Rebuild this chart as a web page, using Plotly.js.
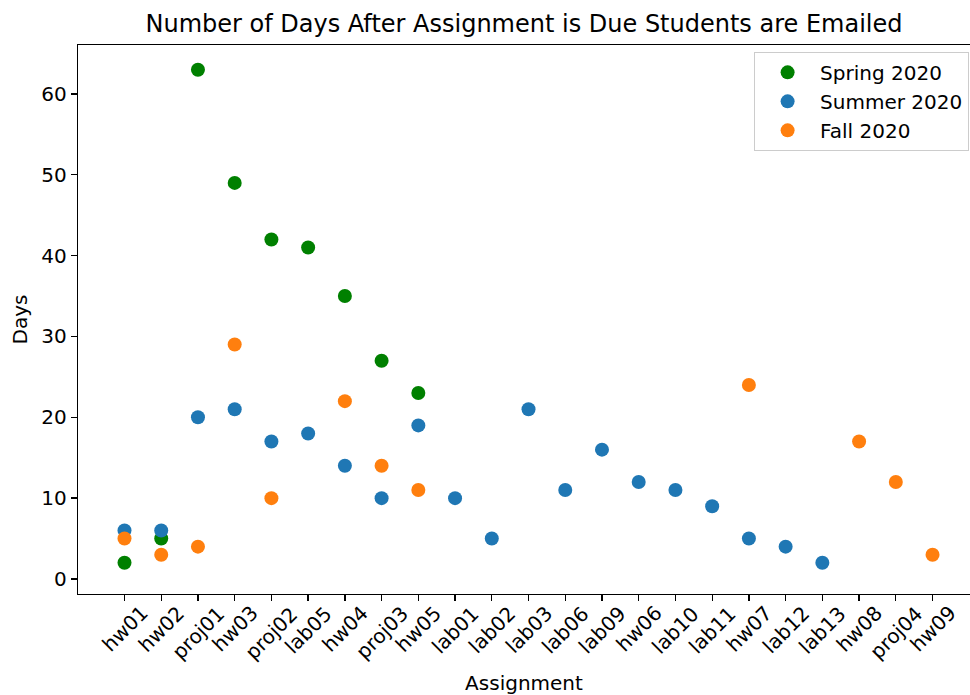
<!DOCTYPE html>
<html>
<head>
<meta charset="utf-8">
<script src="https://cdn.plot.ly/plotly-3.0.1.min.js"></script>
<style>html,body{margin:0;padding:0;overflow:hidden;background:#fff}</style>
</head>
<body>
<div id="chart" style="width:970px;height:695px"></div>
<script>
const categories = ["hw01","hw02","proj01","hw03","proj02","lab05","hw04","proj03","hw05","lab01","lab02","lab03","lab06","lab09","hw06","lab10","lab11","hw07","lab12","lab13","hw08","proj04","hw09"];

const springX = ["hw01","hw02","proj01","hw03","proj02","lab05","hw04","proj03","hw05"];
const springY = [2,5,63,49,42,41,35,27,23];

const summerX = ["hw01","hw02","proj01","hw03","proj02","lab05","hw04","proj03","hw05","lab01","lab02","lab03","lab06","lab09","hw06","lab10","lab11","hw07","lab12","lab13"];
const summerY = [6,6,20,21,17,18,14,10,19,10,5,21,11,16,12,11,9,5,4,2];

const fallX = ["hw01","hw02","proj01","hw03","proj02","hw04","proj03","hw05","hw07","hw08","proj04","hw09"];
const fallY = [5,3,4,29,10,22,14,11,24,17,12,3];

const fontFam = "DejaVu Sans, sans-serif";
function idx(arr){ return arr.map(c => categories.indexOf(c)); }

const traces = [
  {x: idx(springX), y: springY, name: "Spring 2020", legendgroup: "a", type: "scatter", mode: "markers",
   marker: {color: "#008000", size: 14}},
  {x: idx(summerX), y: summerY, name: "Summer 2020", legendgroup: "b", type: "scatter", mode: "markers",
   marker: {color: "#1f77b4", size: 14}},
  {x: idx(fallX), y: fallY, name: "Fall 2020", legendgroup: "c", type: "scatter", mode: "markers",
   marker: {color: "#ff7f0e", size: 14}}
];

// rotated category labels centred under each tick (matplotlib rotation=45, ha=center)
const plotH = 695 - 45 - 101;
const labelTopPx = 6;
const tickLabels = categories.map((c, i) => ({
  x: i, xref: "x", y: -labelTopPx / plotH, yref: "paper",
  text: c, showarrow: false, textangle: -45,
  xanchor: "center", yanchor: "top", borderpad: 0,
  font: {family: fontFam, size: 20, color: "#000"}
}));

const layout = {
  width: 970, height: 695,
  margin: {l: 78, r: 0, t: 45, b: 101},
  paper_bgcolor: "#fff", plot_bgcolor: "#fff",
  font: {family: fontFam, size: 20, color: "#000"},
  title: {text: "Number of Days After Assignment is Due Students are Emailed",
          font: {family: fontFam, size: 24, color: "#000"},
          x: 0.5, xref: "paper", y: 1 - 24/695, yanchor: "middle"},
  xaxis: {
    range: [-1.266, 23.02],
    tickmode: "array",
    tickvals: categories.map((c,i) => i),
    ticktext: categories,
    showticklabels: false,
    showgrid: false, zeroline: false,
    showline: true, mirror: true, linecolor: "#000", linewidth: 1.3,
    ticks: "outside", ticklen: 6, tickcolor: "#000", tickwidth: 1.3,
    tickfont: {family: fontFam, size: 20, color: "#000"},
    title: {text: "Assignment", font: {family: fontFam, size: 20, color: "#000"}, standoff: 76},
    automargin: false
  },
  yaxis: {
    range: [-1.86, 66.06],
    tickvals: [0,10,20,30,40,50,60],
    showgrid: false, zeroline: false,
    showline: true, mirror: false, linecolor: "#000", linewidth: 1.3,
    ticks: "outside", ticklen: 6, tickcolor: "#000", tickwidth: 1.3,
    tickfont: {family: fontFam, size: 20, color: "#000"},
    title: {text: "Days", font: {family: fontFam, size: 20, color: "#000"}, standoff: 8}
  },
  annotations: tickLabels,
  showlegend: true,
  legend: {
    x: 0.999, xanchor: "right", y: 0.9875, yanchor: "top",
    bordercolor: "#cccccc", borderwidth: 1, bgcolor: "rgba(255,255,255,0.8)",
    font: {family: fontFam, size: 20, color: "#000"},
    itemwidth: 55, traceorder: "grouped", tracegroupgap: 0
  }
};

Plotly.newPlot("chart", traces, layout, {displayModeBar: false, staticPlot: true});
</script>
</body>
</html>
